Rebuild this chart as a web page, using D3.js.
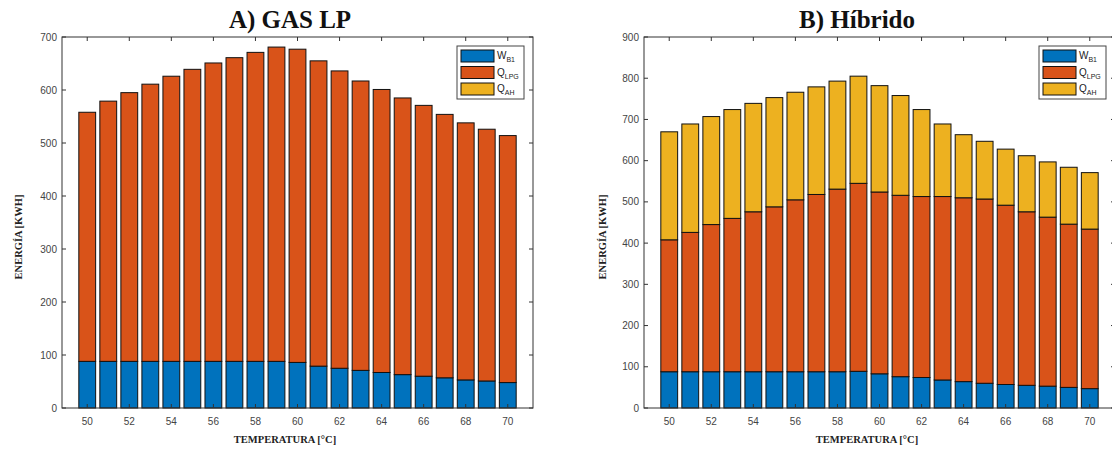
<!DOCTYPE html>
<html>
<head>
    <meta charset="utf-8">
    <style>
        body { margin: 0; background: white; }
        svg { display: block; }
        .tick-label { font-family: 'Liberation Sans', Arial, sans-serif; font-size: 10px; fill: #444; }
        .title { font-family: 'Liberation Serif', 'Times New Roman', serif; font-weight: bold; font-size: 25px; fill: #111; }
        .axis-label { font-family: 'Liberation Serif', 'Times New Roman', serif; font-size: 10.5px; font-weight: bold; fill: #222; }
        .legend-text { font-family: 'Liberation Sans', Arial, sans-serif; font-size: 10px; fill: #222; }
    </style>
</head>
<body>
<svg width="1112" height="450"></svg>

<script src="https://d3js.org/d3.v7.min.js"></script>
<script>
    // temperatures on the x axis
    const temps = [50, 51, 52, 53, 54, 55, 56, 57, 58, 59, 60, 61, 62, 63, 64, 65, 66, 67, 68, 69, 70];
    const xTicks = [50, 52, 54, 56, 58, 60, 62, 64, 66, 68, 70];

    // A) GAS LP
    const gasW   = [88, 88, 88, 88, 88, 88, 88, 88, 88, 88, 86, 79, 75, 71, 67, 63, 60, 57, 53, 51, 48];
    const gasLPG = [470, 491, 507, 523, 538, 551, 563, 573, 583, 593, 591, 576, 561, 546, 534, 522, 511, 497, 485, 475, 466];
    const gasAH  = [0, 0, 0, 0, 0, 0, 0, 0, 0, 0, 0, 0, 0, 0, 0, 0, 0, 0, 0, 0, 0];

    // B) Hibrido
    const hybW   = [88, 88, 88, 88, 88, 88, 88, 88, 88, 89, 83, 76, 74, 68, 64, 60, 57, 55, 53, 50, 47];
    const hybLPG = [320, 338, 357, 372, 388, 400, 417, 430, 443, 456, 441, 440, 439, 445, 446, 447, 435, 421, 410, 396, 387];
    const hybAH  = [262, 263, 262, 264, 263, 265, 261, 261, 262, 260, 258, 242, 211, 176, 153, 140, 136, 136, 134, 138, 137];

    const seriesKeys = ["W", "LPG", "AH"];
    const seriesColors = ["#0072BD", "#D95319", "#EDB120"];
    const legendMain = ["W", "Q", "Q"];
    const legendSub = ["B1", "LPG", "AH"];

    const gasYTicks = [0, 100, 200, 300, 400, 500, 600, 700];
    const hybYTicks = [0, 100, 200, 300, 400, 500, 600, 700, 800, 900];

    let svg = d3.select("svg");

    function drawPanel(opt) {
        let rows = temps.map((t, i) => ({ t: t, W: opt.w[i], LPG: opt.lpg[i], AH: opt.ah[i] }));

        let x = d3.scaleLinear().domain([48.8, 71.2]).range([opt.left, opt.right]);
        let y = d3.scaleLinear().domain([0, opt.yMax]).range([408, 37]);
        let barW = (x(51) - x(50)) * 0.8;

        let g = svg.append("g");

        let stacked = d3.stack().keys(seriesKeys)(rows);

        g.selectAll(".layer")
            .data(stacked)
            .join("g")
            .style("fill", (d, i) => seriesColors[i])
            .selectAll("rect")
            .data(d => d.filter(s => s[1] - s[0] > 0))
            .join("rect")
            .attr("x", d => x(d.data.t) - barW / 2)
            .attr("width", barW)
            .attr("y", d => y(d[1]))
            .attr("height", d => y(d[0]) - y(d[1]))
            .style("stroke", "#111")
            .style("stroke-width", 1);

        // box + ticks
        let axisColor = "#333";
        g.append("rect")
            .attr("x", opt.left).attr("y", y(opt.yMax))
            .attr("width", opt.right - opt.left).attr("height", y(0) - y(opt.yMax))
            .style("fill", "none").style("stroke", axisColor).style("stroke-width", 1);

        xTicks.forEach(t => {
            g.append("line").attr("x1", x(t)).attr("x2", x(t)).attr("y1", y(0)).attr("y2", y(0) - 4)
                .style("stroke", axisColor);
            g.append("line").attr("x1", x(t)).attr("x2", x(t)).attr("y1", y(opt.yMax)).attr("y2", y(opt.yMax) + 4)
                .style("stroke", axisColor);
            g.append("text").attr("class", "tick-label")
                .attr("x", x(t)).attr("y", 425)
                .attr("text-anchor", "middle")
                .text(t);
        });

        opt.yTicks.forEach(v => {
            g.append("line").attr("x1", opt.left).attr("x2", opt.left + 4).attr("y1", y(v)).attr("y2", y(v))
                .style("stroke", axisColor);
            g.append("line").attr("x1", opt.right).attr("x2", opt.right - 4).attr("y1", y(v)).attr("y2", y(v))
                .style("stroke", axisColor);
            g.append("text").attr("class", "tick-label")
                .attr("x", opt.left - 5).attr("y", y(v) + 3.5)
                .attr("text-anchor", "end")
                .text(v);
        });

        g.append("text").attr("class", "title")
            .attr("x", opt.titleX).attr("y", 28)
            .attr("text-anchor", "middle")
            .text(opt.title);

        g.append("text").attr("class", "axis-label")
            .attr("x", opt.xLabelX).attr("y", 443)
            .attr("text-anchor", "middle")
            .text("TEMPERATURA [°C]");

        g.append("text").attr("class", "axis-label")
            .attr("transform", "translate(" + opt.yLabelX + ",237) rotate(-90)")
            .attr("text-anchor", "middle")
            .text("ENERGÍA [KWH]");

        // legend
        let lg = g.append("g").attr("transform", "translate(" + opt.legendX + ",46)");
        lg.append("rect").attr("width", 67).attr("height", 53)
            .style("fill", "white").style("stroke", "#444").style("stroke-width", 1);
        seriesKeys.forEach((k, i) => {
            lg.append("rect")
                .attr("x", 4).attr("y", 4 + i * 16.5)
                .attr("width", 33).attr("height", 12)
                .style("fill", seriesColors[i]).style("stroke", "#111");
            let txt = lg.append("text").attr("class", "legend-text")
                .attr("x", 40).attr("y", 13 + i * 16.5);
            txt.append("tspan").text(legendMain[i]);
            txt.append("tspan").attr("dy", 3).style("font-size", "7px").text(legendSub[i]);
        });
    }

    drawPanel({
        title: "A) GAS LP", titleX: 290, xLabelX: 285, yLabelX: 22,
        left: 62, right: 533, yMax: 700, yTicks: gasYTicks,
        w: gasW, lpg: gasLPG, ah: gasAH, legendX: 457
    });

    drawPanel({
        title: "B) Híbrido", titleX: 857, xLabelX: 867, yLabelX: 606,
        left: 644, right: 1115, yMax: 900, yTicks: hybYTicks,
        w: hybW, lpg: hybLPG, ah: hybAH, legendX: 1039
    });
</script>
</body>
</html>
